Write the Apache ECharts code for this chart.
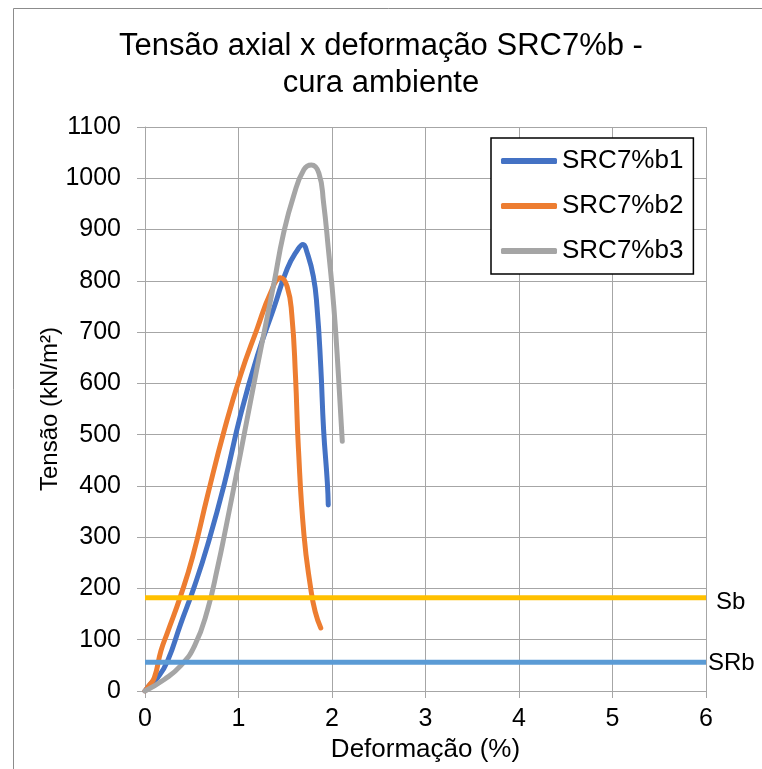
<!DOCTYPE html>
<html>
<head>
<meta charset="utf-8">
<script src="https://cdn.jsdelivr.net/npm/echarts@6/dist/echarts.min.js"></script>
<style>
html, body { margin: 0; padding: 0; background: #fff; }
#container { width: 762px; height: 769px; }
</style>
</head>
<body>
<div id="container"></div>
<script>
// curvas tensão x deformação (x em %, y em kN/m²)
var b1X = [0, 0.05, 0.135, 0.24, 0.38, 0.53, 0.67, 0.85, 1.02, 1.20, 1.38, 1.52, 1.63, 1.69, 1.73, 1.80, 1.84, 1.88, 1.91, 1.95, 1.96];
var b1Y = [0, 12, 26, 58, 130, 205, 285, 405, 537, 653, 748, 823, 860, 871, 857, 809, 748, 632, 510, 407, 363];

var b2X = [0, 0.04, 0.10, 0.17, 0.24, 0.38, 0.51, 0.67, 0.85, 1.02, 1.20, 1.34, 1.45, 1.52, 1.57, 1.61, 1.64, 1.70, 1.77, 1.82, 1.88];
var b2Y = [0, 10, 26, 78, 114, 185, 262, 382, 510, 615, 707, 775, 806, 789, 734, 612, 476, 305, 203, 155, 123];

var b3X = [0, 0.21, 0.38, 0.53, 0.67, 0.78, 0.85, 1.02, 1.20, 1.38, 1.48, 1.59, 1.70, 1.78, 1.86, 1.91, 1.96, 2.02, 2.07, 2.11];
var b3Y = [0, 23, 49, 88, 159, 244, 305, 462, 632, 796, 891, 966, 1017, 1026, 1010, 952, 864, 748, 612, 487];

// limites horizontais
var limX = [0, 6];
var sbY = [182, 182];
var srbY = [56, 56];

var names = ['SRC7%b1', 'SRC7%b2', 'SRC7%b3'];

var FONT = 'Liberation Sans';

function pairs(xs, ys) {
	var out = [];
	for (var i = 0; i < xs.length; i++) {
		out.push([xs[i], ys[i]]);
	}
	return out;
}

function curve(name, xs, ys, color) {
	return {
		name: name,
		type: 'line',
		data: pairs(xs, ys),
		smooth: 0.5,
		showSymbol: false,
		symbol: 'none',
		lineStyle: { color: color, width: 5, cap: 'round', join: 'round' },
		itemStyle: { color: color },
		silent: true
	};
}

function limit(name, ys, color, dist, dy) {
	return {
		name: name,
		type: 'line',
		data: pairs(limX, ys),
		showSymbol: false,
		symbol: 'none',
		lineStyle: { color: color, width: 5 },
		itemStyle: { color: color },
		silent: true,
		endLabel: {
			show: true,
			formatter: name,
			distance: dist,
			offset: [0, dy],
			color: '#000',
			fontFamily: FONT,
			fontSize: 24
		}
	};
}

var chart = echarts.init(document.getElementById('container'));

chart.setOption({
	backgroundColor: '#fff',
	animation: false,
	graphic: [{
		type: 'rect',
		left: 11,
		top: 6,
		shape: { width: 800, height: 800 },
		style: { fill: 'none', stroke: '#8c8c8c', lineWidth: 1 }
	}],
	title: {
		text: 'Tensão axial x deformação SRC7%b -\ncura ambiente',
		left: 'center',
		top: 23,
		textStyle: {
			fontFamily: FONT,
			fontSize: 31,
			fontWeight: 'normal',
			color: '#000',
			lineHeight: 37
		}
	},
	legend: {
		data: names,
		orient: 'vertical',
		left: 491,
		top: 138,
		padding: [10, 10, 10, 10],
		itemGap: 19,
		itemWidth: 56,
		itemHeight: 6,
		icon: 'roundRect',
		borderColor: '#000',
		borderWidth: 1.5,
		backgroundColor: '#fff',
		textStyle: { fontFamily: FONT, fontSize: 26, color: '#000' }
	},
	grid: { left: 145, right: 56, top: 127, bottom: 78 },
	xAxis: {
		type: 'value',
		min: 0,
		max: 6,
		interval: 1,
		name: 'Deformação (%)',
		nameLocation: 'middle',
		nameGap: 46,
		nameMoveOverlap: false,
		nameTextStyle: { fontFamily: FONT, fontSize: 26, color: '#000' },
		axisLine: { show: true, lineStyle: { color: '#a6a6a6', width: 1 } },
		axisTick: { show: true, length: 7, lineStyle: { color: '#a6a6a6' } },
		axisLabel: { margin: 16, fontFamily: FONT, fontSize: 25, color: '#000' },
		splitLine: { show: true, lineStyle: { color: '#a6a6a6', width: 1 } }
	},
	yAxis: {
		type: 'value',
		min: 0,
		max: 1100,
		interval: 100,
		name: 'Tensão (kN/m²)',
		nameLocation: 'middle',
		nameGap: 83,
		nameMoveOverlap: false,
		nameTextStyle: { fontFamily: FONT, fontSize: 24, color: '#000' },
		axisLine: { show: true, lineStyle: { color: '#a6a6a6', width: 1 } },
		axisTick: { show: true, length: 8, lineStyle: { color: '#a6a6a6' } },
		axisLabel: {
			margin: 24,
			fontFamily: FONT,
			fontSize: 25,
			color: '#000',
			formatter: function(v) { return String(v); }
		},
		splitLine: { show: true, lineStyle: { color: '#a6a6a6', width: 1 } }
	},
	series: [
		curve(names[0], b1X, b1Y, '#4472c4'),
		curve(names[1], b2X, b2Y, '#ed7d31'),
		curve(names[2], b3X, b3Y, '#a5a5a5'),
		limit('Sb', sbY, '#ffc000', 10, 5),
		limit('SRb', srbY, '#5b9bd5', 2, 1)
	]
});
</script>
</body>
</html>
